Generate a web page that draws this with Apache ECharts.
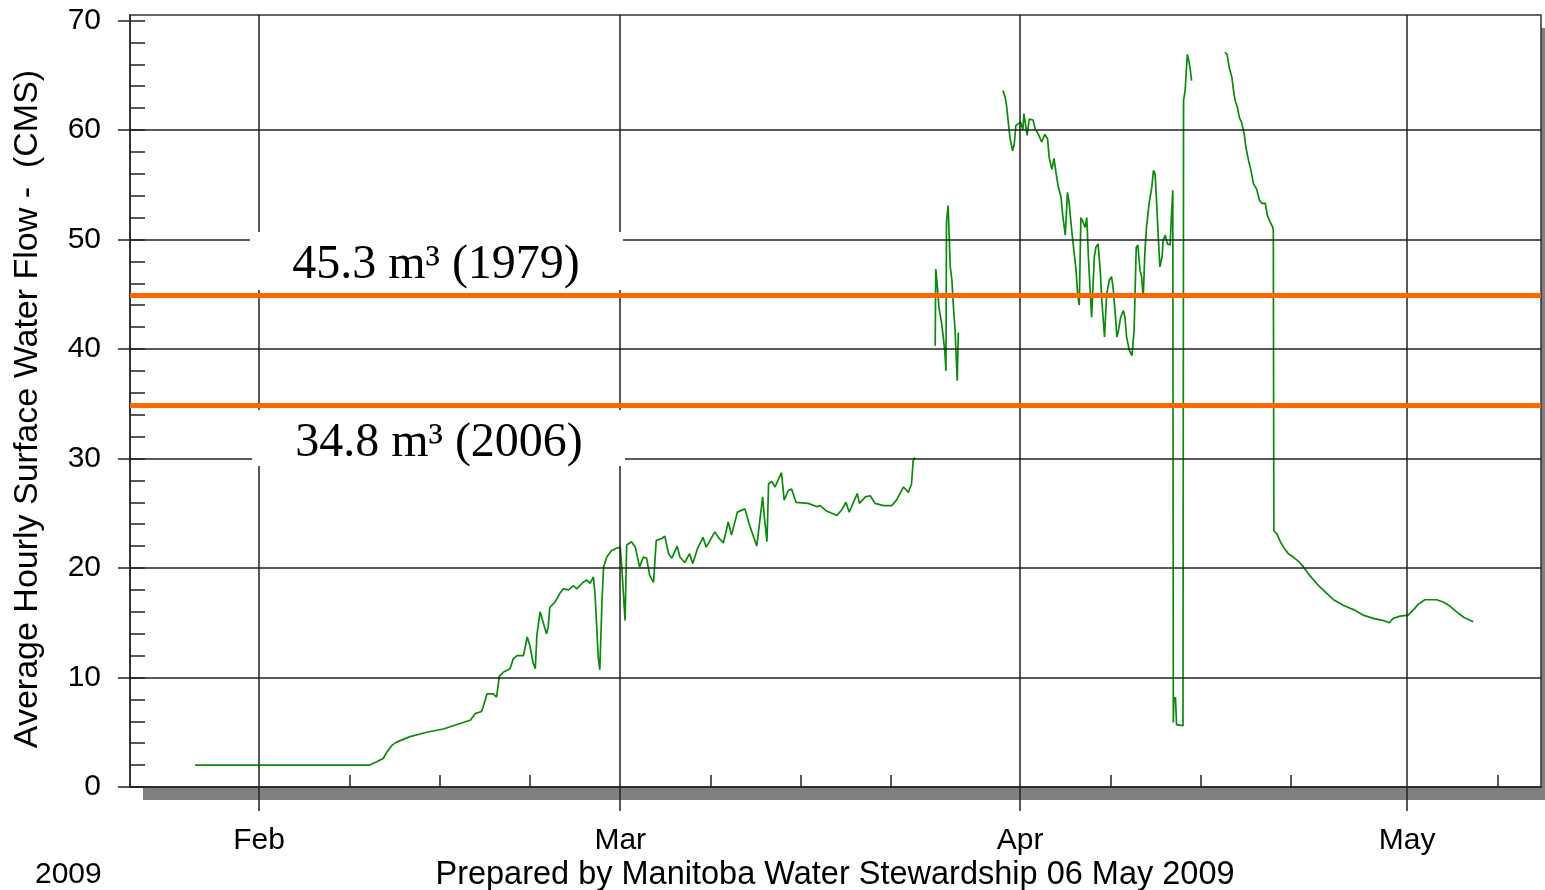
<!DOCTYPE html>
<html>
<head>
<meta charset="utf-8">
<script src="https://cdn.jsdelivr.net/npm/echarts@6/dist/echarts.min.js"></script>
<style>
  html, body { margin: 0; padding: 0; background: #fff; }
  #flow { width: 1545px; height: 890px; }
</style>
</head>
<body>
<div id="flow"></div>
<script>
// hourly flow, null = no record
var flowTimes = [
  '2009-01-27 01:00', '2009-02-09 14:00', '2009-02-10 03:00', '2009-02-10 15:00', '2009-02-10 22:00',
  '2009-02-11 07:00', '2009-02-11 16:00', '2009-02-12 17:00', '2009-02-14 00:00', '2009-02-15 07:00',
  '2009-02-16 14:00', '2009-02-17 09:00', '2009-02-17 18:00', '2009-02-18 06:00', '2009-02-18 09:00',
  '2009-02-18 16:00', '2009-02-19 04:00', '2009-02-19 10:00', '2009-02-19 15:00', '2009-02-19 23:00',
  '2009-02-20 11:00', '2009-02-20 17:00', '2009-02-21 00:00', '2009-02-21 12:00', '2009-02-21 19:00',
  '2009-02-22 00:00', '2009-02-22 06:00', '2009-02-22 10:00', '2009-02-22 13:00', '2009-02-22 19:00',
  '2009-02-22 22:00', '2009-02-23 02:00', '2009-02-23 07:00', '2009-02-23 10:00', '2009-02-23 13:00',
  '2009-02-23 23:00', '2009-02-24 08:00', '2009-02-24 14:00', '2009-02-25 00:00', '2009-02-25 09:00',
  '2009-02-25 15:00', '2009-02-26 03:00', '2009-02-26 10:00', '2009-02-26 16:00', '2009-02-26 22:00',
  '2009-02-27 01:00', '2009-02-27 04:00', '2009-02-27 07:00', '2009-02-27 10:00', '2009-02-27 14:00',
  '2009-02-27 17:00', '2009-02-27 23:00', '2009-02-28 08:00', '2009-02-28 17:00', '2009-03-01 00:00',
  '2009-03-01 03:00', '2009-03-01 09:00', '2009-03-01 12:00', '2009-03-01 21:00', '2009-03-02 04:00',
  '2009-03-02 12:00', '2009-03-02 19:00', '2009-03-03 01:00', '2009-03-03 07:00', '2009-03-03 14:00',
  '2009-03-03 19:00', '2009-03-04 05:00', '2009-03-04 11:00', '2009-03-04 18:00', '2009-03-05 00:00',
  '2009-03-05 10:00', '2009-03-05 15:00', '2009-03-06 00:00', '2009-03-06 09:00', '2009-03-06 15:00',
  '2009-03-07 00:00', '2009-03-07 10:00', '2009-03-07 16:00', '2009-03-08 08:00', '2009-03-08 16:00',
  '2009-03-09 00:00', '2009-03-09 09:00', '2009-03-09 15:00', '2009-03-10 02:00', '2009-03-10 16:00',
  '2009-03-11 00:00', '2009-03-11 14:00', '2009-03-12 01:00', '2009-03-12 04:00', '2009-03-12 09:00',
  '2009-03-12 12:00', '2009-03-12 18:00', '2009-03-13 00:00', '2009-03-13 12:00', '2009-03-13 17:00',
  '2009-03-14 01:00', '2009-03-14 07:00', '2009-03-14 15:00', '2009-03-15 14:00', '2009-03-16 06:00',
  '2009-03-16 12:00', '2009-03-17 00:00', '2009-03-17 19:00', '2009-03-18 04:00', '2009-03-18 12:00',
  '2009-03-18 18:00', '2009-03-19 09:00', '2009-03-19 13:00', '2009-03-20 00:00', '2009-03-20 09:00',
  '2009-03-20 18:00', '2009-03-21 10:00', '2009-03-22 01:00', '2009-03-22 10:00', '2009-03-22 23:00',
  '2009-03-23 08:00', '2009-03-23 14:00', '2009-03-23 17:00', '2009-03-23 20:00',
  '2009-03-24 12:00',
  '2009-03-25 10:00', '2009-03-25 11:00', '2009-03-25 13:00', '2009-03-25 17:00', '2009-03-25 22:00',
  '2009-03-26 01:00', '2009-03-26 04:00', '2009-03-26 06:00', '2009-03-26 07:00', '2009-03-26 10:00',
  '2009-03-26 14:00', '2009-03-26 17:00', '2009-03-26 20:00', '2009-03-26 23:00', '2009-03-27 01:00',
  '2009-03-27 03:00', '2009-03-27 05:00',
  '2009-03-29 00:00',
  '2009-03-30 16:00', '2009-03-30 20:00', '2009-03-30 23:00', '2009-03-31 02:00', '2009-03-31 05:00',
  '2009-03-31 10:00', '2009-03-31 13:00', '2009-03-31 16:00', '2009-03-31 21:00', '2009-04-01 01:00',
  '2009-04-01 05:00', '2009-04-01 07:00', '2009-04-01 11:00', '2009-04-01 13:00', '2009-04-01 17:00',
  '2009-04-02 00:00', '2009-04-02 04:00', '2009-04-02 10:00', '2009-04-02 16:00', '2009-04-02 22:00',
  '2009-04-03 03:00', '2009-04-03 06:00', '2009-04-03 11:00', '2009-04-03 15:00', '2009-04-03 19:00',
  '2009-04-03 23:00', '2009-04-04 04:00', '2009-04-04 07:00', '2009-04-04 12:00', '2009-04-04 16:00',
  '2009-04-04 19:00', '2009-04-05 00:00', '2009-04-05 04:00', '2009-04-05 08:00', '2009-04-05 11:00',
  '2009-04-05 14:00', '2009-04-05 17:00', '2009-04-05 20:00', '2009-04-06 01:00', '2009-04-06 04:00',
  '2009-04-06 07:00', '2009-04-06 10:00', '2009-04-06 13:00', '2009-04-06 18:00', '2009-04-06 21:00',
  '2009-04-07 01:00', '2009-04-07 05:00', '2009-04-07 08:00', '2009-04-07 13:00', '2009-04-07 17:00',
  '2009-04-07 22:00', '2009-04-08 02:00', '2009-04-08 05:00', '2009-04-08 09:00', '2009-04-08 12:00',
  '2009-04-08 15:00', '2009-04-08 19:00', '2009-04-09 00:00', '2009-04-09 03:00', '2009-04-09 06:00',
  '2009-04-09 11:00', '2009-04-09 16:00', '2009-04-09 20:00', '2009-04-10 00:00', '2009-04-10 03:00',
  '2009-04-10 07:00', '2009-04-10 10:00', '2009-04-10 13:00', '2009-04-10 16:00', '2009-04-10 19:00',
  '2009-04-11 00:00', '2009-04-11 05:00', '2009-04-11 08:00', '2009-04-11 11:00', '2009-04-11 14:00',
  '2009-04-11 17:00', '2009-04-11 20:00', '2009-04-12 00:00', '2009-04-12 02:00', '2009-04-12 06:00',
  '2009-04-12 10:00', '2009-04-12 15:00', '2009-04-12 18:00', '2009-04-12 20:00', '2009-04-12 21:00',
  '2009-04-12 22:00', '2009-04-13 01:00', '2009-04-13 03:00', '2009-04-13 15:00', '2009-04-13 16:00',
  '2009-04-13 19:00', '2009-04-13 21:00', '2009-04-13 23:00', '2009-04-14 02:00', '2009-04-14 04:00',
  '2009-04-14 07:00',
  '2009-04-15 12:00',
  '2009-04-16 21:00', '2009-04-17 01:00', '2009-04-17 05:00', '2009-04-17 10:00', '2009-04-17 13:00',
  '2009-04-17 16:00', '2009-04-17 20:00', '2009-04-18 00:00', '2009-04-18 04:00', '2009-04-18 09:00',
  '2009-04-18 12:00', '2009-04-18 17:00', '2009-04-18 21:00', '2009-04-19 02:00', '2009-04-19 08:00',
  '2009-04-19 13:00', '2009-04-19 18:00', '2009-04-20 00:00', '2009-04-20 04:00', '2009-04-20 09:00',
  '2009-04-20 14:00', '2009-04-20 15:00', '2009-04-20 16:00', '2009-04-20 22:00', '2009-04-21 04:00',
  '2009-04-21 10:00', '2009-04-21 19:00', '2009-04-22 04:00', '2009-04-22 14:00', '2009-04-22 23:00',
  '2009-04-23 11:00', '2009-04-24 03:00', '2009-04-24 18:00', '2009-04-25 07:00', '2009-04-26 01:00',
  '2009-04-26 20:00', '2009-04-27 14:00', '2009-04-28 09:00', '2009-04-29 04:00', '2009-04-29 15:00',
  '2009-04-29 22:00', '2009-04-30 11:00', '2009-05-01 02:00', '2009-05-01 12:00', '2009-05-01 21:00',
  '2009-05-02 09:00', '2009-05-03 07:00', '2009-05-03 19:00', '2009-05-04 08:00', '2009-05-04 20:00',
  '2009-05-05 09:00', '2009-05-06 03:00'
];

var flowValues = [
  2.0, 2.0, 2.3, 2.6, 3.2,
  3.8, 4.1, 4.6, 5.0, 5.3,
  5.8, 6.1, 6.7, 6.9, 7.3,
  8.5, 8.5, 8.2, 10.1, 10.5,
  10.8, 11.7, 12.0, 12.0, 13.7,
  12.9, 11.3, 10.8, 13.9, 16.0,
  16.1, 14.8, 14.0, 14.6, 16.4,
  16.9, 17.7, 18.1, 18.0, 18.4,
  18.1, 18.7, 18.9, 18.6, 19.2,
  17.7, 14.9, 11.9, 10.7, 16.8,
  20.1, 21.0, 21.6, 21.8, 21.9,
  20.0, 15.2, 22.1, 22.4, 21.9,
  20.1, 21.0, 20.9, 19.3, 18.7,
  22.5, 22.7, 22.9, 21.3, 20.9,
  22.0, 21.0, 20.5, 21.3, 20.4,
  21.8, 22.8, 21.9, 23.3, 22.7,
  22.3, 24.2, 23.0, 25.1, 25.4,
  24.0, 22.0, 26.5, 24.7, 22.4,
  27.7, 27.9, 27.4, 28.7, 26.2,
  27.1, 27.2, 26.0, 25.9, 25.6,
  25.7, 25.2, 24.8, 25.3, 26.0,
  25.1, 26.8, 25.9, 26.5, 26.6,
  25.9, 25.7, 25.7, 26.2, 27.4,
  26.9, 27.7, 29.8, 30.1,
  null,
  40.3, 47.3, 46.3, 43.8, 42.3,
  41.1, 39.7, 38.0, 51.6, 53.1,
  47.5, 46.3, 43.8, 41.7, 39.3,
  37.1, 41.5,
  null,
  63.6, 63.0, 62.1, 60.7, 59.3,
  58.1, 58.7, 60.4, 60.6, 60.7,
  60.0, 61.5, 60.2, 59.5, 61.0,
  60.9, 60.1, 59.6, 58.9, 59.6,
  59.2, 57.5, 56.4, 57.4, 56.0,
  54.8, 53.9, 52.3, 50.4, 54.3,
  53.4, 50.8, 49.0, 47.2, 45.0,
  44.0, 52.0, 51.7, 51.1, 52.0,
  48.4, 45.6, 42.9, 48.4, 49.3,
  49.6, 47.2, 44.4, 41.1, 45.0,
  46.3, 46.6, 45.6, 43.2, 41.1,
  41.7, 42.9, 43.5, 42.9, 41.1,
  39.9, 39.4, 41.7, 49.3, 49.5,
  47.2, 46.6, 44.7, 48.8, 51.1,
  53.3, 54.8, 56.3, 56.0, 53.3,
  50.2, 47.5, 48.4, 49.9, 50.4,
  49.6, 49.5, 52.7, 54.5, 5.9,
  8.0, 8.2, 5.7, 5.6, 62.7,
  63.6, 65.3, 66.9, 66.3, 65.7,
  64.5,
  null,
  67.1, 66.9, 65.7, 64.8, 63.6,
  62.7, 62.1, 61.1, 60.7, 59.6,
  58.4, 57.2, 56.4, 55.1, 54.6,
  53.6, 53.3, 53.3, 52.2, 51.6,
  51.1, 50.8, 23.4, 23.1, 22.4,
  21.9, 21.3, 21.0, 20.6, 20.1,
  19.3, 18.4, 17.7, 17.1, 16.6,
  16.2, 15.7, 15.4, 15.2, 15.0,
  15.4, 15.6, 15.7, 16.2, 16.7,
  17.1, 17.1, 16.9, 16.5, 16.0,
  15.5, 15.1
];

var xStart = '2009-01-22 00:00';
var xEnd = '2009-05-11 09:00';
var monthTicks = ['2009-02-01', '2009-03-01', '2009-04-01', '2009-05-01'];
var monthLabels = ['Jan', 'Feb', 'Mar', 'Apr', 'May'];
var weekTicks = ['2009-02-08', '2009-02-15', '2009-02-22', '2009-03-08', '2009-03-15',
                 '2009-03-22', '2009-04-08', '2009-04-15', '2009-04-22', '2009-05-08'];
var yMajorTicks = [0, 10, 20, 30, 40, 50, 60, 70];
var yMinorTicks = [0, 2, 4, 6, 8, 10, 12, 14, 16, 18, 20, 22, 24, 26, 28, 30, 32, 34, 36,
                   38, 40, 42, 44, 46, 48, 50, 52, 54, 56, 58, 60, 62, 64, 66, 68, 70];
var yGridLines = [10, 20, 30, 40, 50, 60];
var recordLevels = [44.9, 34.9];
var recordTexts = ['45.3 m³ (1979)', '34.8 m³ (2006)'];

function ts(s) { return echarts.time.parse(s).getTime(); }

var myChart = echarts.init(document.getElementById('flow'));

var monthTs = monthTicks.map(ts);
var weekTs = weekTicks.map(ts);

var gridLines = [];
yGridLines.forEach(function (v) { gridLines.push({ yAxis: v }); });
monthTs.forEach(function (t) { gridLines.push({ xAxis: t }); });

var flowData = flowTimes.map(function (t, i) { return [ts(t), flowValues[i]]; });

var option = {
    animation: false,
    textStyle: { fontFamily: 'Liberation Sans' },
    grid: {
        show: true,
        left: 130, top: 15, right: 4, bottom: 103,
        backgroundColor: '#fff',
        borderColor: '#333',
        borderWidth: 1.5
    },
    xAxis: [{
        type: 'value',
        min: ts(xStart),
        max: ts(xEnd),
        axisLine: { show: true, lineStyle: { color: '#222', width: 1.5 } },
        axisTick: { show: true, length: 24, customValues: monthTs, lineStyle: { color: '#222', width: 1.5 } },
        axisLabel: {
            customValues: monthTs,
            fontSize: 30, color: '#000', margin: 39,
            formatter: function (v) { return monthLabels[new Date(v).getMonth()]; }
        },
        splitLine: { show: false }
    }, {
        type: 'value',
        position: 'bottom',
        min: ts(xStart),
        max: ts(xEnd),
        axisLine: { show: false },
        axisTick: { show: true, inside: true, length: 12, customValues: weekTs, lineStyle: { color: '#222', width: 1.5 } },
        axisLabel: { show: false },
        splitLine: { show: false }
    }],
    yAxis: [{
        type: 'value',
        min: 0, max: 70.5,
        interval: 10,
        name: 'Average Hourly Surface Water Flow -  (CMS)',
        nameLocation: 'middle',
        nameGap: 85,
        nameTextStyle: { fontSize: 34, color: '#000', padding: [0, 16, 0, 0] },
        axisLine: { show: true, lineStyle: { color: '#222', width: 1.5 } },
        axisTick: { show: true, length: 12, customValues: yMajorTicks, lineStyle: { color: '#222', width: 1.5 } },
        axisLabel: { customValues: yMajorTicks, fontSize: 30, color: '#000', margin: 29 },
        splitLine: { show: false }
    }, {
        type: 'value',
        position: 'left',
        min: 0, max: 70.5,
        axisLine: { show: false },
        axisTick: { show: true, inside: true, length: 15, customValues: yMinorTicks, lineStyle: { color: '#222', width: 1.5 } },
        axisLabel: { show: false },
        splitLine: { show: false }
    }],
    series: [{
        name: 'grid',
        type: 'line',
        data: [],
        z: 1,
        markLine: {
            silent: true,
            symbol: ['none', 'none'],
            label: { show: false },
            lineStyle: { color: '#222', width: 1.5, type: 'solid' },
            data: gridLines
        }
    }, {
        name: 'flow',
        type: 'line',
        data: flowData,
        showSymbol: false,
        symbol: 'none',
        connectNulls: false,
        z: 2,
        lineStyle: { color: '#0b8a0b', width: 1.7 }
    }, {
        name: 'records',
        type: 'line',
        data: [],
        z: 3,
        markLine: {
            silent: true,
            symbol: ['none', 'none'],
            label: { show: false },
            lineStyle: { color: '#ff6600', width: 5, type: 'solid' },
            data: recordLevels.map(function (v) { return { yAxis: v }; })
        }
    }],
    graphic: [
        // drop shadow of the plot frame
        { type: 'rect', z: -10, silent: true, shape: { x: 143, y: 28, width: 1410, height: 772 }, style: { fill: '#808080' } },
        { type: 'rect', z: 10, shape: { x: 250, y: 232, width: 373, height: 58 }, style: { fill: '#fff' } },
        { type: 'text', z: 11, x: 436, y: 265, style: { text: recordTexts[0], font: '48px "Liberation Serif"', fill: '#000', textAlign: 'center', textVerticalAlign: 'middle' } },
        { type: 'rect', z: 10, shape: { x: 252, y: 410, width: 373, height: 56 }, style: { fill: '#fff' } },
        { type: 'text', z: 11, x: 439, y: 443, style: { text: recordTexts[1], font: '48px "Liberation Serif"', fill: '#000', textAlign: 'center', textVerticalAlign: 'middle' } },
        { type: 'text', x: 35, y: 875, style: { text: '2009', font: '30px "Liberation Sans"', fill: '#000', textVerticalAlign: 'middle' } },
        { type: 'text', x: 835, y: 875, style: { text: 'Prepared by Manitoba Water Stewardship 06 May 2009', font: '32.5px "Liberation Sans"', fill: '#000', textAlign: 'center', textVerticalAlign: 'middle' } }
    ]
};

myChart.setOption(option);
</script>
</body>
</html>
